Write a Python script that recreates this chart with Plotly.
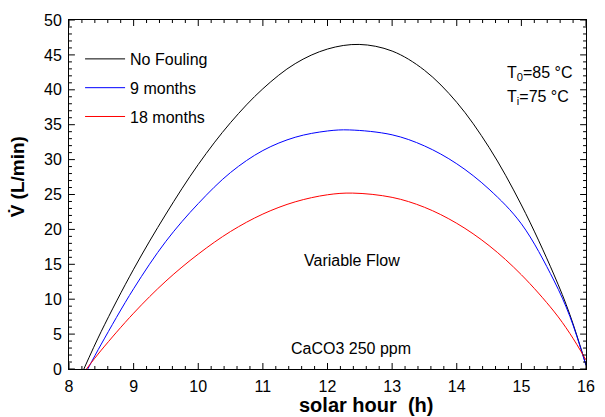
import numpy as np
import plotly.graph_objects as go

# Volumetric flow over the solar day for three fouling states
hours_clean = [8.23, 8.5, 9.0, 9.5, 10.0, 10.5, 11.0, 11.5, 12.0, 12.49,
               13.0, 13.5, 14.0, 14.5, 15.0, 15.5, 15.75, 16.0]
flow_clean = [0.0, 5.4, 14.3, 22.2, 29.3, 35.3, 40.15, 43.75, 45.84, 46.5,
              45.55, 42.8, 38.2, 31.75, 23.5, 13.6, 7.8, 0.6]

hours_9m = [8.29, 8.5, 9.0, 9.5, 10.0, 10.5, 11.0, 11.5, 12.0, 12.34,
            13.0, 13.5, 14.0, 14.5, 15.0, 15.5, 15.75, 16.0]
flow_9m = [0.0, 3.57, 11.5, 18.3, 23.7, 28.15, 31.3, 33.2, 34.1, 34.25,
           33.55, 31.96, 29.4, 25.76, 20.8, 12.75, 7.55, 0.5]

hours_18m = [8.27, 8.5, 9.0, 9.5, 10.0, 10.5, 11.0, 11.5, 12.0, 12.39,
             13.0, 13.5, 14.0, 14.5, 15.0, 15.5, 15.75, 16.0]
flow_18m = [0.0, 2.7, 8.0, 12.6, 16.46, 19.7, 22.2, 23.95, 24.96, 25.2,
            24.59, 23.17, 20.87, 17.68, 13.5, 8.3, 5.1, 1.3]

series = [
    ("No Fouling", hours_clean, flow_clean, "#000000"),
    ("9 months", hours_9m, flow_9m, "#0000ff"),
    ("18 months", hours_18m, flow_18m, "#ff0000"),
]

X_RANGE = [8, 16]
Y_RANGE = [0, 50]
x_major_ticks = list(range(8, 17, 1))
y_major_ticks = list(range(0, 51, 5))
x_minor_ticks = [round(v, 1) for v in np.arange(8, 16.001, 0.2)]
y_minor_ticks = list(range(0, 51, 1))

FONT = "Arial, 'Liberation Sans', sans-serif"
WIDTH, HEIGHT = 605, 417
MARGIN = dict(l=69, r=10, t=20, b=48)

fig = go.Figure()
for name, hx, vy, color in series:
    fig.add_trace(go.Scatter(
        x=hx, y=vy, name=name, mode="lines",
        line=dict(color=color, width=1, shape="spline", smoothing=1.0),
        legendgroup=name,
    ))

# inward tick marks on all four sides, drawn as one line trace
plot_w = WIDTH - MARGIN["l"] - MARGIN["r"]
plot_h = HEIGHT - MARGIN["t"] - MARGIN["b"]
x_per_px = (X_RANGE[1] - X_RANGE[0]) / plot_w
y_per_px = (Y_RANGE[1] - Y_RANGE[0]) / plot_h
tx, ty = [], []
for v in x_minor_ticks:
    n = 6 if abs(v - round(v)) < 1e-9 else 3
    tx += [v, v, None, v, v, None]
    ty += [Y_RANGE[0], Y_RANGE[0] + n * y_per_px, None,
           Y_RANGE[1], Y_RANGE[1] - n * y_per_px, None]
for v in y_minor_ticks:
    n = 6 if v in y_major_ticks else 3
    tx += [X_RANGE[0], X_RANGE[0] + n * x_per_px, None,
           X_RANGE[1], X_RANGE[1] - n * x_per_px, None]
    ty += [v, v, None, v, v, None]
fig.add_trace(go.Scatter(x=tx, y=ty, mode="lines", line=dict(color="black", width=1),
                         showlegend=False, hoverinfo="skip", cliponaxis=False))

fig.update_layout(
    xaxis=dict(range=X_RANGE, tickvals=x_major_ticks, ticks="",
               showline=True, linecolor="black", linewidth=1, mirror=True,
               showgrid=False, zeroline=False,
               tickfont=dict(family=FONT, size=16, color="black"),
               ticklabelstandoff=3),
    yaxis=dict(range=Y_RANGE, tickvals=y_major_ticks, ticks="",
               showline=True, linecolor="black", linewidth=1, mirror=True,
               showgrid=False, zeroline=False,
               tickfont=dict(family=FONT, size=16, color="black"),
               ticklabelstandoff=3),
)

annotations = [
    dict(text="T<sub>0</sub>=85 °C", x=14.75, y=42.3, xref="x", yref="y",
         xanchor="left", yanchor="middle", showarrow=False),
    dict(text="T<sub>i</sub>=75 °C", x=14.75, y=38.9, xref="x", yref="y",
         xanchor="left", yanchor="middle", showarrow=False),
    dict(text="Variable Flow", x=12.38, y=15.5, xref="x", yref="y",
         xanchor="center", yanchor="middle", showarrow=False),
    dict(text="CaCO3 250 ppm", x=12.37, y=2.9, xref="x", yref="y",
         xanchor="center", yanchor="middle", showarrow=False),
    dict(text="<b>solar hour\u00a0\u00a0(h)</b>", x=0.575, y=-0.103, xref="paper", yref="paper",
         xanchor="center", yanchor="middle", showarrow=False,
         font=dict(family=FONT, size=20, color="black")),
    dict(text="<b>V\u0307 (L/min)</b>", x=-0.1, y=0.55, xref="paper", yref="paper",
         xanchor="center", yanchor="middle", showarrow=False, textangle=-90,
         font=dict(family=FONT, size=19, color="black")),
]

fig.update_layout(
    width=WIDTH, height=HEIGHT,
    margin=MARGIN,
    paper_bgcolor="white", plot_bgcolor="white",
    font=dict(family=FONT, size=16, color="black"),
    showlegend=True,
    legend=dict(x=0.0214, y=0.937, xanchor="left", yanchor="top",
                bgcolor="rgba(0,0,0,0)", borderwidth=0,
                font=dict(family=FONT, size=16, color="black"),
                tracegroupgap=5, itemwidth=40),
    annotations=annotations,
)

fig.write_html("out.html")
